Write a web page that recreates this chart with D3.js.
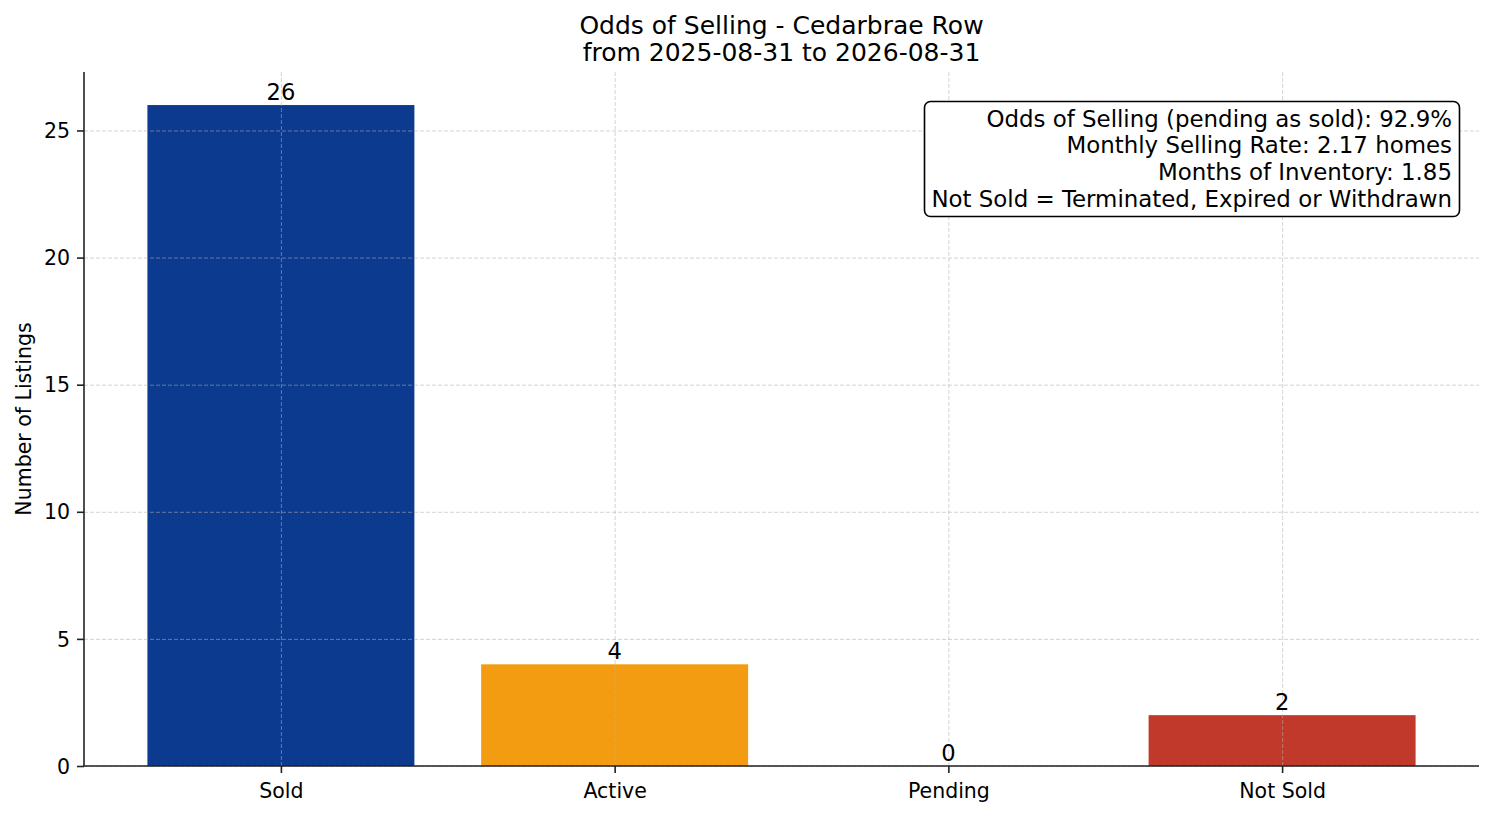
<!DOCTYPE html>
<html>
<head>
<meta charset="utf-8">
<script src="https://cdn.jsdelivr.net/npm/d3@7"></script>
<style>
body { margin: 0; background: #fff; }
svg { display: block; font-family: "DejaVu Sans", sans-serif; }
</style>
</head>
<body>
<svg width="1494" height="816"></svg>
<script>
// data
const categories = ["Sold", "Active", "Pending", "Not Sold"]
const counts = [26, 4, 0, 2]
const barColors = ["#0b3a8f", "#f39c12", "#2c3e50", "#c0392b"]
const yTicks = [0, 5, 10, 15, 20, 25]
const titleLines = ["Odds of Selling - Cedarbrae Row", "from 2025-08-31 to 2026-08-31"]
const infoLines = [
    "Odds of Selling (pending as sold): 92.9%",
    "Monthly Selling Rate: 2.17 homes",
    "Months of Inventory: 1.85",
    "Not Sold = Terminated, Expired or Withdrawn"
]

const plotL = 84, plotR = 1479, plotT = 72, plotB = 766

const svg = d3.select("svg")

const x = d3.scaleLinear()
    .domain([-0.59, categories.length - 1 + 0.59])
    .range([plotL, plotR])

const y = d3.scaleLinear()
    .domain([0, d3.max(counts) * 1.05])
    .range([plotB, plotT])

const barW = x(0.8) - x(0)

// bars
svg.append("g")
    .selectAll("rect")
    .data(counts)
    .enter()
    .append("rect")
    .attr("x", (d, i) => x(i) - barW / 2)
    .attr("y", d => y(d))
    .attr("width", barW)
    .attr("height", d => y(0) - y(d))
    .attr("fill", (d, i) => barColors[i])

// grid on top of bars
const grid = svg.append("g")
    .attr("stroke", "#b0b0b0")
    .attr("stroke-opacity", 0.55)
    .attr("stroke-width", 1)
    .attr("stroke-dasharray", "4,2")

grid.selectAll("line.h")
    .data(yTicks)
    .enter()
    .append("line")
    .attr("x1", plotL).attr("x2", plotR)
    .attr("y1", d => y(d) + 0.5).attr("y2", d => y(d) + 0.5)

grid.selectAll("line.v")
    .data(categories)
    .enter()
    .append("line")
    .attr("x1", (d, i) => x(i) + 0.5).attr("x2", (d, i) => x(i) + 0.5)
    .attr("y1", plotT).attr("y2", plotB)

// axes
const yAxis = svg.append("g")
    .attr("transform", `translate(${plotL},0)`)
    .call(d3.axisLeft(y).tickValues(yTicks).tickSize(7).tickPadding(7))

const xAxis = svg.append("g")
    .attr("transform", `translate(0,${plotB})`)
    .call(d3.axisBottom(x).tickValues(d3.range(categories.length))
        .tickFormat(i => categories[i]).tickSize(7).tickPadding(10))

for (const ax of [yAxis, xAxis]) {
    ax.select(".domain").remove()
    ax.selectAll(".tick line").attr("stroke", "#222").attr("stroke-width", 1.6)
    ax.selectAll("text")
        .attr("font-family", "DejaVu Sans")
        .attr("font-size", 20.5)
        .attr("fill", "#000")
}
yAxis.selectAll("text").attr("dy", "0.35em")

// spines
svg.append("line")
    .attr("x1", plotL).attr("x2", plotL).attr("y1", plotT).attr("y2", plotB)
    .attr("stroke", "#222").attr("stroke-width", 1.6)
svg.append("line")
    .attr("x1", plotL - 0.8).attr("x2", plotR).attr("y1", plotB).attr("y2", plotB)
    .attr("stroke", "#222").attr("stroke-width", 1.6)

// bar value labels
svg.append("g")
    .selectAll("text")
    .data(counts)
    .enter()
    .append("text")
    .attr("x", (d, i) => x(i))
    .attr("y", d => y(d) - 5)
    .attr("text-anchor", "middle")
    .attr("font-size", 22.6)
    .text(d => d)

// y label
svg.append("text")
    .attr("transform", `translate(31,${(plotT + plotB) / 2}) rotate(-90)`)
    .attr("text-anchor", "middle")
    .attr("font-size", 20.5)
    .text("Number of Listings")

// title
svg.append("g")
    .selectAll("text")
    .data(titleLines)
    .enter()
    .append("text")
    .attr("x", (plotL + plotR) / 2)
    .attr("y", (d, i) => 34 + i * 27)
    .attr("text-anchor", "middle")
    .attr("font-size", 25)
    .text(d => d)

// info box
const box = svg.append("g")
box.append("rect")
    .attr("x", 924.5).attr("y", 101.5)
    .attr("width", 535).attr("height", 115)
    .attr("rx", 6).attr("ry", 6)
    .attr("fill", "#fff")
    .attr("stroke", "#000")
    .attr("stroke-width", 1.6)
box.selectAll("text")
    .data(infoLines)
    .enter()
    .append("text")
    .attr("x", 1452)
    .attr("y", (d, i) => 126.5 + i * 26.7)
    .attr("text-anchor", "end")
    .attr("font-size", 22.9)
    .text(d => d)
</script>
</body>
</html>
